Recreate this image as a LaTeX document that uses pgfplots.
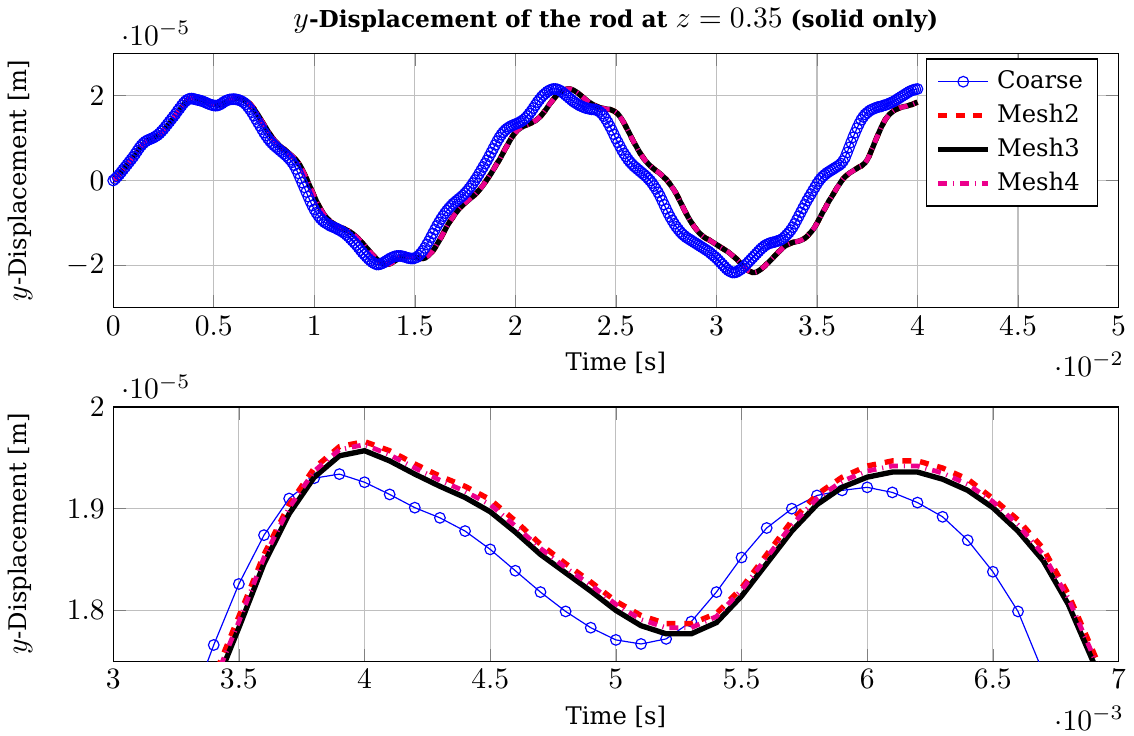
\documentclass[border=0pt]{standalone}
\usepackage{fontspec}
\setmainfont{DejaVu Serif}[Scale=0.82]
\usepackage{pgfplots}
\usepackage{pgfplotstable}
\pgfplotsset{compat=1.18}
\pgfplotstableread{
t c m2 m3 m4
0.0 0 0 0 0
0.1 0.04 0.04 0.04 0.04
0.2 0.09 0.09 0.09 0.09
0.3 0.14 0.14 0.14 0.14
0.4 0.20 0.20 0.20 0.20
0.5 0.26 0.25 0.25 0.25
0.6 0.32 0.31 0.31 0.31
0.7 0.38 0.37 0.37 0.37
0.8 0.44 0.43 0.43 0.43
0.9 0.50 0.49 0.49 0.49
1.0 0.56 0.55 0.55 0.55
1.1 0.63 0.61 0.61 0.61
1.2 0.70 0.68 0.68 0.68
1.3 0.77 0.75 0.75 0.75
1.4 0.83 0.81 0.81 0.81
1.5 0.88 0.86 0.86 0.86
1.6 0.92 0.91 0.91 0.91
1.7 0.95 0.94 0.94 0.94
1.8 0.97 0.96 0.96 0.96
1.9 0.99 0.98 0.98 0.98
2.0 1.01 1.00 1.00 1.00
2.1 1.04 1.03 1.03 1.03
2.2 1.07 1.06 1.06 1.06
2.3 1.11 1.09 1.09 1.09
2.4 1.16 1.13 1.13 1.13
2.5 1.21 1.18 1.18 1.18
2.6 1.27 1.23 1.23 1.23
2.7 1.33 1.29 1.29 1.29
2.8 1.39 1.35 1.35 1.35
2.9 1.45 1.41 1.41 1.41
3.0 1.51 1.482 1.470 1.477
3.1 1.57 1.542 1.530 1.537
3.2 1.64 1.609 1.597 1.604
3.3 1.70 1.672 1.660 1.667
3.4 1.766 1.734 1.722 1.729
3.5 1.826 1.794 1.783 1.789
3.6 1.874 1.855 1.846 1.852
3.7 1.910 1.904 1.895 1.901
3.8 1.930 1.940 1.931 1.937
3.9 1.934 1.961 1.952 1.958
4.0 1.926 1.966 1.957 1.963
4.1 1.914 1.957 1.947 1.953
4.2 1.901 1.944 1.934 1.940
4.3 1.891 1.932 1.922 1.928
4.4 1.878 1.922 1.911 1.917
4.5 1.860 1.909 1.897 1.904
4.6 1.839 1.888 1.877 1.883
4.7 1.818 1.865 1.855 1.861
4.8 1.799 1.846 1.837 1.842
4.9 1.783 1.828 1.819 1.825
5.0 1.771 1.809 1.800 1.806
5.1 1.767 1.795 1.785 1.791
5.2 1.772 1.787 1.777 1.783
5.3 1.789 1.787 1.777 1.783
5.4 1.818 1.797 1.788 1.794
5.5 1.852 1.822 1.814 1.820
5.6 1.881 1.855 1.846 1.852
5.7 1.900 1.888 1.878 1.884
5.8 1.913 1.914 1.904 1.910
5.9 1.918 1.931 1.921 1.927
6.0 1.921 1.942 1.931 1.937
6.1 1.916 1.947 1.936 1.942
6.2 1.906 1.947 1.936 1.942
6.3 1.892 1.940 1.929 1.935
6.4 1.869 1.929 1.918 1.924
6.5 1.838 1.910 1.901 1.907
6.6 1.799 1.889 1.878 1.884
6.7 1.739 1.861 1.849 1.855
6.8 1.68 1.816 1.806 1.812
6.9 1.61 1.759 1.749 1.755
7.0 1.53 1.70 1.69 1.70
7.1 1.45 1.63 1.62 1.63
7.2 1.37 1.56 1.55 1.56
7.3 1.29 1.47 1.47 1.47
7.4 1.21 1.39 1.39 1.39
7.5 1.13 1.32 1.32 1.32
7.6 1.06 1.24 1.24 1.24
7.7 0.99 1.16 1.16 1.16
7.8 0.93 1.09 1.09 1.09
7.9 0.88 1.02 1.02 1.02
8.0 0.83 0.96 0.96 0.96
8.1 0.79 0.91 0.91 0.91
8.2 0.75 0.86 0.86 0.86
8.3 0.71 0.81 0.81 0.81
8.4 0.67 0.77 0.77 0.77
8.5 0.63 0.74 0.74 0.74
8.6 0.59 0.70 0.70 0.70
8.7 0.54 0.66 0.66 0.66
8.8 0.49 0.62 0.62 0.62
8.9 0.43 0.58 0.58 0.58
9.0 0.36 0.53 0.53 0.53
9.1 0.27 0.48 0.48 0.48
9.2 0.17 0.42 0.42 0.42
9.3 0.06 0.35 0.35 0.35
9.4 -0.05 0.26 0.26 0.26
9.5 -0.16 0.16 0.16 0.16
9.6 -0.27 0.06 0.06 0.06
9.7 -0.38 -0.05 -0.05 -0.05
9.8 -0.49 -0.16 -0.16 -0.16
9.9 -0.59 -0.26 -0.26 -0.26
10.0 -0.68 -0.37 -0.37 -0.37
10.1 -0.76 -0.48 -0.48 -0.48
10.2 -0.83 -0.57 -0.57 -0.57
10.3 -0.89 -0.66 -0.66 -0.66
10.4 -0.94 -0.74 -0.74 -0.74
10.5 -0.98 -0.81 -0.81 -0.81
10.6 -1.01 -0.87 -0.87 -0.87
10.7 -1.04 -0.92 -0.92 -0.92
10.8 -1.07 -0.97 -0.97 -0.97
10.9 -1.09 -1.00 -1.00 -1.00
11.0 -1.11 -1.03 -1.03 -1.03
11.1 -1.13 -1.06 -1.06 -1.06
11.2 -1.16 -1.08 -1.08 -1.08
11.3 -1.18 -1.10 -1.10 -1.10
11.4 -1.21 -1.12 -1.12 -1.12
11.5 -1.24 -1.14 -1.14 -1.14
11.6 -1.28 -1.17 -1.17 -1.17
11.7 -1.32 -1.19 -1.19 -1.19
11.8 -1.37 -1.22 -1.22 -1.22
11.9 -1.42 -1.25 -1.25 -1.25
12.0 -1.47 -1.29 -1.29 -1.29
12.1 -1.52 -1.33 -1.33 -1.33
12.2 -1.58 -1.38 -1.38 -1.38
12.3 -1.64 -1.43 -1.43 -1.43
12.4 -1.70 -1.48 -1.48 -1.48
12.5 -1.75 -1.53 -1.53 -1.53
12.6 -1.80 -1.59 -1.59 -1.59
12.7 -1.85 -1.64 -1.64 -1.64
12.8 -1.89 -1.70 -1.70 -1.70
12.9 -1.93 -1.75 -1.75 -1.75
13.0 -1.96 -1.80 -1.80 -1.80
13.1 -1.98 -1.85 -1.85 -1.85
13.2 -1.98 -1.89 -1.89 -1.89
13.3 -1.97 -1.93 -1.93 -1.93
13.4 -1.95 -1.96 -1.96 -1.96
13.5 -1.92 -1.98 -1.98 -1.98
13.6 -1.89 -1.98 -1.98 -1.98
13.7 -1.86 -1.97 -1.97 -1.97
13.8 -1.83 -1.96 -1.96 -1.96
13.9 -1.81 -1.93 -1.93 -1.93
14.0 -1.79 -1.90 -1.90 -1.90
14.1 -1.78 -1.87 -1.87 -1.87
14.2 -1.78 -1.84 -1.84 -1.84
14.3 -1.78 -1.82 -1.82 -1.82
14.4 -1.79 -1.80 -1.80 -1.80
14.5 -1.80 -1.79 -1.79 -1.79
14.6 -1.82 -1.78 -1.78 -1.78
14.7 -1.83 -1.78 -1.78 -1.78
14.8 -1.84 -1.78 -1.78 -1.78
14.9 -1.84 -1.79 -1.79 -1.79
15.0 -1.83 -1.81 -1.81 -1.81
15.1 -1.81 -1.82 -1.82 -1.82
15.2 -1.77 -1.83 -1.83 -1.83
15.3 -1.72 -1.84 -1.84 -1.84
15.4 -1.66 -1.84 -1.84 -1.84
15.5 -1.59 -1.83 -1.83 -1.83
15.6 -1.51 -1.80 -1.80 -1.80
15.7 -1.43 -1.76 -1.76 -1.76
15.8 -1.34 -1.71 -1.71 -1.71
15.9 -1.25 -1.66 -1.66 -1.66
16.0 -1.16 -1.59 -1.59 -1.59
16.1 -1.07 -1.51 -1.51 -1.51
16.2 -0.99 -1.43 -1.43 -1.43
16.3 -0.91 -1.35 -1.35 -1.35
16.4 -0.84 -1.26 -1.26 -1.26
16.5 -0.77 -1.17 -1.17 -1.17
16.6 -0.71 -1.08 -1.08 -1.08
16.7 -0.65 -1.00 -1.00 -1.00
16.8 -0.60 -0.93 -0.93 -0.93
16.9 -0.55 -0.86 -0.86 -0.86
17.0 -0.51 -0.79 -0.79 -0.79
17.1 -0.47 -0.73 -0.73 -0.73
17.2 -0.43 -0.67 -0.67 -0.67
17.3 -0.39 -0.62 -0.62 -0.62
17.4 -0.35 -0.57 -0.57 -0.57
17.5 -0.30 -0.53 -0.53 -0.53
17.6 -0.25 -0.49 -0.49 -0.49
17.7 -0.19 -0.45 -0.45 -0.45
17.8 -0.13 -0.41 -0.41 -0.41
17.9 -0.06 -0.37 -0.37 -0.37
18.0 0.01 -0.33 -0.33 -0.33
18.1 0.08 -0.28 -0.28 -0.28
18.2 0.16 -0.23 -0.23 -0.23
18.3 0.24 -0.17 -0.17 -0.17
18.4 0.32 -0.11 -0.11 -0.11
18.5 0.40 -0.04 -0.04 -0.04
18.6 0.48 0.03 0.03 0.03
18.7 0.57 0.10 0.10 0.10
18.8 0.66 0.17 0.17 0.17
18.9 0.75 0.25 0.25 0.25
19.0 0.84 0.33 0.33 0.33
19.1 0.93 0.41 0.41 0.41
19.2 1.01 0.48 0.48 0.48
19.3 1.08 0.57 0.57 0.57
19.4 1.14 0.66 0.66 0.66
19.5 1.19 0.75 0.75 0.75
19.6 1.23 0.83 0.83 0.83
19.7 1.26 0.92 0.92 0.92
19.8 1.29 1.00 1.00 1.00
19.9 1.31 1.07 1.07 1.07
20.0 1.33 1.13 1.13 1.13
20.1 1.35 1.18 1.18 1.18
20.2 1.37 1.22 1.22 1.22
20.3 1.40 1.25 1.25 1.25
20.4 1.43 1.28 1.28 1.28
20.5 1.47 1.30 1.30 1.30
20.6 1.52 1.32 1.32 1.32
20.7 1.58 1.34 1.34 1.34
20.8 1.64 1.36 1.36 1.36
20.9 1.71 1.39 1.39 1.39
21.0 1.78 1.41 1.41 1.41
21.1 1.85 1.45 1.45 1.45
21.2 1.91 1.49 1.49 1.49
21.3 1.97 1.54 1.54 1.54
21.4 2.02 1.60 1.60 1.60
21.5 2.06 1.66 1.66 1.66
21.6 2.10 1.73 1.73 1.73
21.7 2.13 1.80 1.80 1.80
21.8 2.15 1.86 1.86 1.86
21.9 2.16 1.92 1.92 1.92
22.0 2.16 1.98 1.98 1.98
22.1 2.15 2.03 2.03 2.03
22.2 2.13 2.07 2.07 2.07
22.3 2.10 2.10 2.10 2.10
22.4 2.06 2.13 2.13 2.13
22.5 2.02 2.15 2.15 2.15
22.6 1.98 2.16 2.16 2.16
22.7 1.94 2.16 2.16 2.16
22.8 1.90 2.15 2.15 2.15
22.9 1.86 2.13 2.13 2.13
23.0 1.83 2.10 2.10 2.10
23.1 1.80 2.07 2.07 2.07
23.2 1.77 2.03 2.03 2.03
23.3 1.75 1.99 1.99 1.99
23.4 1.73 1.95 1.95 1.95
23.5 1.71 1.91 1.91 1.91
23.6 1.70 1.87 1.87 1.87
23.7 1.69 1.84 1.84 1.84
23.8 1.68 1.81 1.81 1.81
23.9 1.68 1.78 1.78 1.78
24.0 1.67 1.76 1.76 1.76
24.1 1.65 1.74 1.74 1.74
24.2 1.62 1.72 1.72 1.72
24.3 1.58 1.71 1.71 1.71
24.4 1.52 1.70 1.70 1.70
24.5 1.45 1.69 1.69 1.69
24.6 1.37 1.68 1.68 1.68
24.7 1.28 1.68 1.68 1.68
24.8 1.19 1.66 1.66 1.66
24.9 1.09 1.64 1.64 1.64
25.0 0.99 1.61 1.61 1.61
25.1 0.90 1.57 1.57 1.57
25.2 0.81 1.51 1.51 1.51
25.3 0.72 1.44 1.44 1.44
25.4 0.64 1.36 1.36 1.36
25.5 0.57 1.27 1.27 1.27
25.6 0.50 1.18 1.18 1.18
25.7 0.44 1.09 1.09 1.09
25.8 0.39 0.99 0.99 0.99
25.9 0.34 0.90 0.90 0.90
26.0 0.30 0.82 0.82 0.82
26.1 0.26 0.73 0.73 0.73
26.2 0.22 0.65 0.65 0.65
26.3 0.18 0.58 0.58 0.58
26.4 0.14 0.51 0.51 0.51
26.5 0.10 0.45 0.45 0.45
26.6 0.05 0.40 0.40 0.40
26.7 0.00 0.35 0.35 0.35
26.8 -0.06 0.31 0.31 0.31
26.9 -0.13 0.27 0.27 0.27
27.0 -0.20 0.23 0.23 0.23
27.1 -0.28 0.20 0.20 0.20
27.2 -0.37 0.16 0.16 0.16
27.3 -0.47 0.12 0.12 0.12
27.4 -0.57 0.07 0.07 0.07
27.5 -0.67 0.03 0.03 0.03
27.6 -0.77 -0.03 -0.03 -0.03
27.7 -0.86 -0.09 -0.09 -0.09
27.8 -0.94 -0.16 -0.16 -0.16
27.9 -1.02 -0.23 -0.23 -0.23
28.0 -1.09 -0.31 -0.31 -0.31
28.1 -1.15 -0.40 -0.40 -0.40
28.2 -1.21 -0.50 -0.50 -0.50
28.3 -1.26 -0.59 -0.59 -0.59
28.4 -1.30 -0.69 -0.69 -0.69
28.5 -1.34 -0.78 -0.78 -0.78
28.6 -1.37 -0.87 -0.87 -0.87
28.7 -1.40 -0.95 -0.95 -0.95
28.8 -1.43 -1.02 -1.02 -1.02
28.9 -1.46 -1.09 -1.09 -1.09
29.0 -1.49 -1.15 -1.15 -1.15
29.1 -1.52 -1.21 -1.21 -1.21
29.2 -1.55 -1.26 -1.26 -1.26
29.3 -1.58 -1.30 -1.30 -1.30
29.4 -1.61 -1.34 -1.34 -1.34
29.5 -1.64 -1.37 -1.37 -1.37
29.6 -1.67 -1.39 -1.39 -1.39
29.7 -1.71 -1.42 -1.42 -1.42
29.8 -1.75 -1.45 -1.45 -1.45
29.9 -1.79 -1.48 -1.48 -1.48
30.0 -1.83 -1.51 -1.51 -1.51
30.1 -1.88 -1.54 -1.54 -1.54
30.2 -1.93 -1.57 -1.57 -1.57
30.3 -1.98 -1.60 -1.60 -1.60
30.4 -2.03 -1.63 -1.63 -1.63
30.5 -2.08 -1.66 -1.66 -1.66
30.6 -2.12 -1.69 -1.69 -1.69
30.7 -2.15 -1.73 -1.73 -1.73
30.8 -2.17 -1.77 -1.77 -1.77
30.9 -2.17 -1.81 -1.81 -1.81
31.0 -2.16 -1.85 -1.85 -1.85
31.1 -2.13 -1.90 -1.90 -1.90
31.2 -2.10 -1.95 -1.95 -1.95
31.3 -2.06 -2.00 -2.00 -2.00
31.4 -2.02 -2.04 -2.04 -2.04
31.5 -1.97 -2.09 -2.09 -2.09
31.6 -1.92 -2.13 -2.13 -2.13
31.7 -1.87 -2.15 -2.15 -2.15
31.8 -1.82 -2.17 -2.17 -2.17
31.9 -1.77 -2.17 -2.17 -2.17
32.0 -1.72 -2.16 -2.16 -2.16
32.1 -1.67 -2.13 -2.13 -2.13
32.2 -1.62 -2.10 -2.10 -2.10
32.3 -1.58 -2.06 -2.06 -2.06
32.4 -1.54 -2.02 -2.02 -2.02
32.5 -1.51 -1.97 -1.97 -1.97
32.6 -1.49 -1.93 -1.93 -1.93
32.7 -1.47 -1.88 -1.88 -1.88
32.8 -1.46 -1.83 -1.83 -1.83
32.9 -1.45 -1.78 -1.78 -1.78
33.0 -1.43 -1.73 -1.73 -1.73
33.1 -1.42 -1.68 -1.68 -1.68
33.2 -1.40 -1.64 -1.64 -1.64
33.3 -1.37 -1.59 -1.59 -1.59
33.4 -1.33 -1.55 -1.55 -1.55
33.5 -1.28 -1.52 -1.52 -1.52
33.6 -1.23 -1.50 -1.50 -1.50
33.7 -1.17 -1.48 -1.48 -1.48
33.8 -1.10 -1.46 -1.46 -1.46
33.9 -1.02 -1.45 -1.45 -1.45
34.0 -0.93 -1.44 -1.44 -1.44
34.1 -0.84 -1.43 -1.43 -1.43
34.2 -0.75 -1.41 -1.41 -1.41
34.3 -0.66 -1.39 -1.39 -1.39
34.4 -0.57 -1.36 -1.36 -1.36
34.5 -0.48 -1.32 -1.32 -1.32
34.6 -0.40 -1.27 -1.27 -1.27
34.7 -0.32 -1.22 -1.22 -1.22
34.8 -0.24 -1.16 -1.16 -1.16
34.9 -0.16 -1.09 -1.09 -1.09
35.0 -0.08 -1.01 -1.01 -1.01
35.1 -0.01 -0.92 -0.92 -0.92
35.2 0.05 -0.83 -0.83 -0.83
35.3 0.10 -0.74 -0.74 -0.74
35.4 0.14 -0.66 -0.66 -0.66
35.5 0.18 -0.57 -0.57 -0.57
35.6 0.21 -0.48 -0.48 -0.48
35.7 0.24 -0.41 -0.41 -0.41
35.8 0.27 -0.33 -0.33 -0.33
35.9 0.30 -0.25 -0.25 -0.25
36.0 0.33 -0.17 -0.17 -0.17
36.1 0.36 -0.10 -0.10 -0.10
36.2 0.40 -0.03 -0.03 -0.03
36.3 0.46 0.04 0.04 0.04
36.4 0.54 0.09 0.09 0.09
36.5 0.66 0.13 0.13 0.13
36.6 0.78 0.17 0.17 0.17
36.7 0.90 0.20 0.20 0.20
36.8 1.02 0.23 0.23 0.23
36.9 1.13 0.26 0.26 0.26
37.0 1.24 0.29 0.29 0.29
37.1 1.34 0.32 0.32 0.32
37.2 1.43 0.34 0.34 0.34
37.3 1.50 0.38 0.38 0.38
37.4 1.56 0.42 0.42 0.42
37.5 1.60 0.49 0.49 0.49
37.6 1.64 0.58 0.58 0.58
37.7 1.67 0.70 0.70 0.70
37.8 1.69 0.81 0.81 0.81
37.9 1.71 0.93 0.93 0.93
38.0 1.73 1.04 1.04 1.04
38.1 1.74 1.15 1.15 1.15
38.2 1.75 1.26 1.26 1.26
38.3 1.77 1.35 1.35 1.35
38.4 1.78 1.44 1.44 1.44
38.5 1.80 1.50 1.50 1.50
38.6 1.82 1.56 1.56 1.56
38.7 1.84 1.60 1.60 1.60
38.8 1.86 1.64 1.64 1.64
38.9 1.89 1.67 1.67 1.67
39.0 1.92 1.69 1.69 1.69
39.1 1.95 1.71 1.71 1.71
39.2 1.98 1.73 1.73 1.73
39.3 2.01 1.74 1.74 1.74
39.4 2.04 1.75 1.75 1.75
39.5 2.07 1.76 1.76 1.76
39.6 2.10 1.78 1.78 1.78
39.7 2.12 1.79 1.79 1.79
39.8 2.14 1.81 1.81 1.81
39.9 2.15 1.83 1.83 1.83
40.0 2.16 1.85 1.85 1.85
}\disp
\begin{document}
\begin{tikzpicture}
\pgfplotsset{
  every axis/.append style={scale only axis, width=340pt, height=86pt, grid=major},
  scaled y ticks=manual:{$\cdot 10^{-5}$}{\pgfmathparse{#1}},
  every x tick scale label/.style={at={(1,0)}, anchor=north east, yshift=-15pt, xshift=2pt, inner sep=0pt},
  ylabel shift=6pt,
}
\begin{axis}[
  xmin=0, xmax=50, ymin=-3, ymax=3,
  xtick={0,5,...,50}, ytick={-2,0,2},
  scaled x ticks=manual:{$\cdot 10^{-2}$}{\pgfmathparse{#1/10}},
  xlabel={Time [s]}, ylabel={$y$-Displacement [m]},
  title={$y$-Displacement of the rod at $z=0.35$ (solid only)},
  title style={font=\bfseries\fontsize{9.6}{11}\selectfont, yshift=-2pt},
  legend cell align=left,
]
\addplot[blue, mark=o, mark size=1.8pt] table[x=t,y=c]{\disp};
\addlegendentry{Coarse}
\addplot[red, dashed, line width=1.8pt] table[x=t,y=m2]{\disp};
\addlegendentry{Mesh2}
\addplot[black, line width=1.8pt] table[x=t,y=m3]{\disp};
\addlegendentry{Mesh3}
\addplot[magenta, dashdotted, line width=1.6pt] table[x=t,y=m4]{\disp};
\addlegendentry{Mesh4}
\end{axis}
\begin{axis}[
  at={(0,-33.6pt)}, anchor=north west,
  xmin=3, xmax=7, ymin=1.75, ymax=2,
  xtick={3,3.5,...,7}, ytick={1.8,1.9,2},
  scaled x ticks=manual:{$\cdot 10^{-3}$}{\pgfmathparse{#1}},
  xlabel={Time [s]}, ylabel={$y$-Displacement [m]},
  clip marker paths=true,
]
\addplot[blue, mark=o, mark size=1.8pt] table[x=t,y=c]{\disp};
\addplot[red, dashed, line width=1.8pt] table[x=t,y=m2]{\disp};
\addplot[black, line width=1.8pt] table[x=t,y=m3]{\disp};
\addplot[magenta, dashdotted, line width=1.6pt] table[x=t,y=m4]{\disp};
\end{axis}
\end{tikzpicture}
\end{document}
